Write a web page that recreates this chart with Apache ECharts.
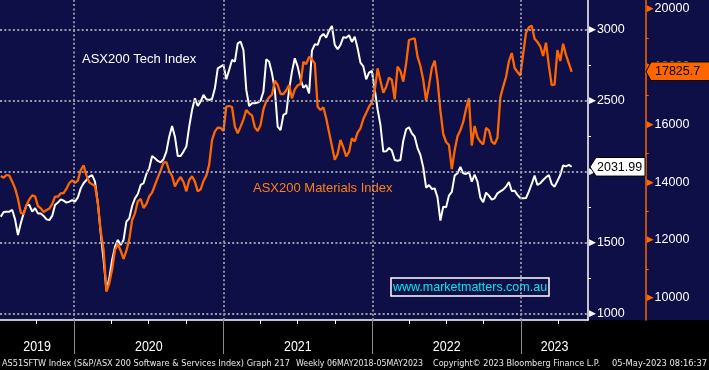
<!DOCTYPE html>
<html><head><meta charset="utf-8">
<script src="https://cdn.jsdelivr.net/npm/echarts@6/dist/echarts.min.js"></script>
<style>html,body{margin:0;padding:0;background:#000}#c{width:709px;height:370px}</style>
</head><body><div id="c"></div>
<script>
// ---- data (weekly, first observation 2019-07-05, last 2023-05-05) ----
const startDate = '2019-07-05';
const techValues = [
1681,1714,1716,1716,1728,1662,1552,1634,1704,1763,
1763,1716,1740,1704,1704,1686,1662,1657,1686,1763,
1780,1803,1794,1780,1787,1798,1787,1817,1880,1916,
1939,1963,1974,1927,1775,1564,1376,1165,1247,1376,
1470,1517,1481,1517,1646,1669,1756,1810,1840,1904,
1916,1981,2021,2108,2092,2073,2063,2085,2139,2244,
2319,2244,2108,2108,2139,2174,2315,2432,2514,2460,
2491,2538,2507,2502,2509,2584,2725,2737,2749,2648,
2714,2784,2772,2901,2913,2854,2573,2460,2479,2479,
2484,2498,2561,2789,2772,2690,2573,2315,2290,2397,
2408,2573,2702,2796,2737,2648,2589,2608,2549,2850,
2894,2890,2948,2967,2941,2990,3023,2890,2859,2890,
2944,2941,2958,2911,2948,2866,2765,2739,2648,2695,
2707,2577,2437,2326,2139,2141,2164,2146,2080,2075,
2080,2216,2296,2310,2268,2244,2164,2115,2028,1885,
1904,1876,1880,1817,1653,1751,1747,1829,1855,1970,
1986,2031,1986,1981,1995,1927,1977,1927,1815,1782,
1850,1829,1801,1810,1845,1859,1871,1892,1925,1862,
1864,1834,1812,1810,1812,1859,1911,1970,1904,1916,
1939,1958,1974,1911,1892,1932,1974,2042,2035,2045,
2031.99];
const matValues = [
14215,14157,14250,14227,14019,13788,13430,12945,12899,13199,
13407,13545,13511,13176,13095,12968,13037,13084,13245,13499,
13499,13615,13626,13776,13973,14065,13973,14065,14423,14585,
14238,13996,13927,13869,13268,12310,11652,10208,10497,10982,
11652,11848,11629,11340,11629,12021,12691,12922,13338,13418,
13107,13245,13511,13638,13903,14157,14400,14677,14700,14388,
14215,13857,14042,14180,14007,13684,14077,14204,14019,13684,
13753,14042,14227,14608,15462,15762,15890,15878,15774,16617,
16640,16605,15924,15693,15924,16178,16502,16386,16317,15901,
15774,15982,16525,16802,16940,17033,17518,17368,17056,17056,
17183,17368,16906,17217,17356,17402,18164,18095,18337,18257,
18118,16617,16502,16594,16213,15728,15254,14781,14977,15462,
15208,14896,15047,15520,15416,15716,15866,16190,16398,16617,
16767,17183,17945,17518,17102,17298,17621,17541,16871,18003,
17852,17483,18118,18926,18961,18984,18349,18026,17541,16825,
17344,17956,18210,17529,16478,15670,15393,15289,14458,15104,
15589,15797,16086,16548,16906,15266,15947,15555,15405,15312,
15878,15797,15405,15324,15543,16940,17310,17645,18187,18476,
17956,17818,17691,18441,19180,19365,19423,18972,18857,18707,
18372,18834,18037,17368,17379,18580,18199,18799,18407,18118,
17825.7];
const techTicks = [1000,1500,2000,2500,3000];
const techMinorTicks = [1250,1750,2250,2750];
const matTicks = [10000,12000,14000,16000,18000,20000];
const matMinorTicks = [11000,13000,15000,17000,19000];
const years = [2019,2020,2021,2022,2023];
const xMinStr = '2019-07-03', xMaxStr = '2023-06-14';
const techRange = [953.5, 3206];
const matRange = [9227, 20312];
const techName = 'ASX200 Tech Index';
const matName = 'ASX200 Materials Index';
const siteText = 'www.marketmatters.com.au';
const footer = ['AS51SFTW Index (S&P/ASX 200 Software & Services Index) Graph 217',
  'Weekly 06MAY2018-05MAY2023', 'Copyright\u00a9 2023 Bloomberg Finance L.P.', '05-May-2023 08:16:37'];

// ---- build ----
const DAY = 86400000;
const ts = s => Date.UTC(+s.slice(0, 4), +s.slice(5, 7) - 1, +s.slice(8, 10));
const t0 = ts(startDate);
const dates = techValues.map((_, i) => t0 + i * 7 * DAY);
const xMin = ts(xMinStr), xMax = ts(xMaxStr);
const yearStarts = years.slice(1).map(y => ts(y + '-01-01'));
const yearMids = years.map(y => {
  const a = Math.max(xMin, ts(y + '-01-01')), b = Math.min(xMax, ts((y + 1) + '-01-01'));
  return (a + b) / 2;
});
const quarterStarts = [];
years.concat([2024]).forEach(y => ['01','04','07','10'].forEach(m => {
  const t = ts(y + '-' + m + '-01'); if (t >= xMin && t <= xMax) quarterStarts.push(t);
}));
const techData = dates.map((d, i) => [d, techValues[i]]);
const matData = dates.map((d, i) => [d, matValues[i]]);

const NAVY = '#0f0f47', ORANGE = '#ff6600', GRIDC = '#9c9cab';
const chart = echarts.init(document.getElementById('c'), null, {renderer: 'canvas'});
const numRich = (arrowColor) => ({
  t: {color: arrowColor, fontSize: 9, fontFamily: 'DejaVu Sans', padding: [0, 1, 0, 0]},
  n: {color: '#fff', fontSize: 12.5, fontFamily: 'Liberation Sans'}
});
chart.setOption({
  animation: false,
  backgroundColor: '#000',
  grid: {left: 0, top: 0, width: 588, height: 320, containLabel: false},
  xAxis: [{
    type: 'value', min: xMin, max: xMax, position: 'bottom', scale: true,
    axisLine: {show: true, lineStyle: {color: '#fff', width: 1.5}},
    axisTick: {show: true, customValues: quarterStarts, length: 4, lineStyle: {color: '#fff', width: 1}},
    axisLabel: {show: false},
    splitLine: {show: false}
  }, {
    type: 'value', min: xMin, max: xMax, position: 'bottom', scale: true,
    axisLine: {show: false},
    axisTick: {show: true, customValues: yearStarts, length: 34, lineStyle: {color: '#8a8a8a', width: 1}},
    axisLabel: {show: false}, splitLine: {show: false}
  }],
  yAxis: [{
    type: 'value', position: 'right', offset: 0, min: techRange[0], max: techRange[1],
    axisLine: {show: true, lineStyle: {color: '#fff', width: 1.5}},
    axisTick: {show: true, customValues: techMinorTicks, length: 3, lineStyle: {color: '#fff'}},
    axisLabel: {customValues: techTicks, margin: 1, formatter: v => '{t|\u25B6}{n|' + v + '}', rich: numRich('#fff')},
    splitLine: {show: false}
  }, {
    type: 'value', position: 'right', offset: 57.7, min: matRange[0], max: matRange[1],
    axisLine: {show: true, lineStyle: {color: ORANGE, width: 1.5}},
    axisTick: {show: true, customValues: matMinorTicks, length: 3, lineStyle: {color: ORANGE}},
    axisLabel: {customValues: matTicks, margin: 1, formatter: v => '{t|\u25B6}{n|' + v + '}', rich: numRich(ORANGE)},
    splitLine: {show: false}
  }],
  series: [{
    type: 'line', data: [], xAxisIndex: 0, yAxisIndex: 0, z: 1, silent: true,
    markLine: {
      symbol: ['none', 'none'], silent: true, animation: false, label: {show: false},
      lineStyle: {color: GRIDC, type: [2, 2.3], width: 1.8},
      emphasis: {disabled: true},
      data: techTicks.map(v => ({yAxis: v})).concat(yearStarts.map(t => ({xAxis: t})))
    }
  }, {
    name: techName, type: 'line', data: techData, xAxisIndex: 0, yAxisIndex: 0,
    showSymbol: false, symbol: 'none', z: 3, lineStyle: {color: '#fff', width: 2}
  }, {
    name: matName, type: 'line', data: matData, xAxisIndex: 0, yAxisIndex: 1,
    showSymbol: false, symbol: 'none', z: 4, lineStyle: {color: ORANGE, width: 2.3}
  }],
  graphic: [
    {type: 'rect', id: 'bg', z: -100, silent: true, shape: {x: 0, y: 0, width: 709, height: 320}, style: {fill: NAVY}},
    {type: 'text', id: 'lt', x: 82, y: 59, style: {text: techName, fill: '#fff', font: '13px "Liberation Sans"', verticalAlign: 'middle'}},
    {type: 'text', id: 'lm', x: 253, y: 188, style: {text: matName, fill: '#ff7f1a', font: '13px "Liberation Sans"', verticalAlign: 'middle'}},
    {type: 'rect', id: 'wb', shape: {x: 391, y: 278, width: 158, height: 18}, style: {fill: NAVY, stroke: '#fff', lineWidth: 1.5}},
    {type: 'text', id: 'wt', x: 470, y: 287.5, style: {text: siteText, fill: '#00e8f2', font: '12.5px "Liberation Sans"', align: 'center', verticalAlign: 'middle'}}
  ]
});

// year labels centred on the visible part of each year (positions from the x axis scale)
const yearGraphics = years.map((y, i) => ({
  type: 'text', id: 'yr' + i, x: chart.convertToPixel({xAxisIndex: 0}, yearMids[i]), y: 347,
  scaleX: 0.83, style: {text: String(y), fill: '#fff', font: '15px "Liberation Sans"', align: 'center', verticalAlign: 'middle'}
}));
// footer text, condensed to Bloomberg's narrow face
const ctx = document.createElement('canvas').getContext('2d');
const FOOT_FONT = '9px "DejaVu Sans"';
ctx.font = FOOT_FONT;
const footSpans = [[2, 290], [296, 423], [433, 600], [612, 707]];
const footGraphics = footer.map((t, i) => {
  const w = ctx.measureText(t).width, target = footSpans[i][1] - footSpans[i][0];
  return {type: 'text', id: 'f' + i, x: footSpans[i][0], y: 363.5, scaleX: target / w,
    style: {text: t, fill: '#e8e8e8', font: FOOT_FONT, verticalAlign: 'middle'}};
});
// last-value tags positioned through the axes' scales
const lastT = techValues[techValues.length - 1], lastM = matValues[matValues.length - 1];
const yT = chart.convertToPixel({yAxisIndex: 0}, lastT);
const yM = chart.convertToPixel({yAxisIndex: 1}, lastM);
chart.setOption({graphic: yearGraphics.concat(footGraphics).concat([
  {type: 'polygon', id: 'tagT', z: 50, shape: {points: [[590, yT], [596, yT - 9.3], [645, yT - 9.3], [645, yT + 9.3], [596, yT + 9.3]]},
    style: {fill: '#fff', stroke: '#000', lineWidth: 1}},
  {type: 'text', id: 'tagTt', z: 51, x: 597, y: yT + 0.5, style: {text: lastT.toFixed(2), fill: '#000', font: '12.5px "Liberation Sans"', verticalAlign: 'middle'}},
  {type: 'polygon', id: 'tagM', z: 50, shape: {points: [[646, yM], [651, yM - 9.8], [712, yM - 9.8], [712, yM + 8.8], [651, yM + 8.8]]},
    style: {fill: ORANGE, stroke: '#000', lineWidth: 1}},
  {type: 'text', id: 'tagMt', z: 51, x: 655, y: yM, style: {text: lastM.toFixed(1), fill: '#000', font: '12.5px "Liberation Sans"', verticalAlign: 'middle'}}
])});
</script></body></html>
